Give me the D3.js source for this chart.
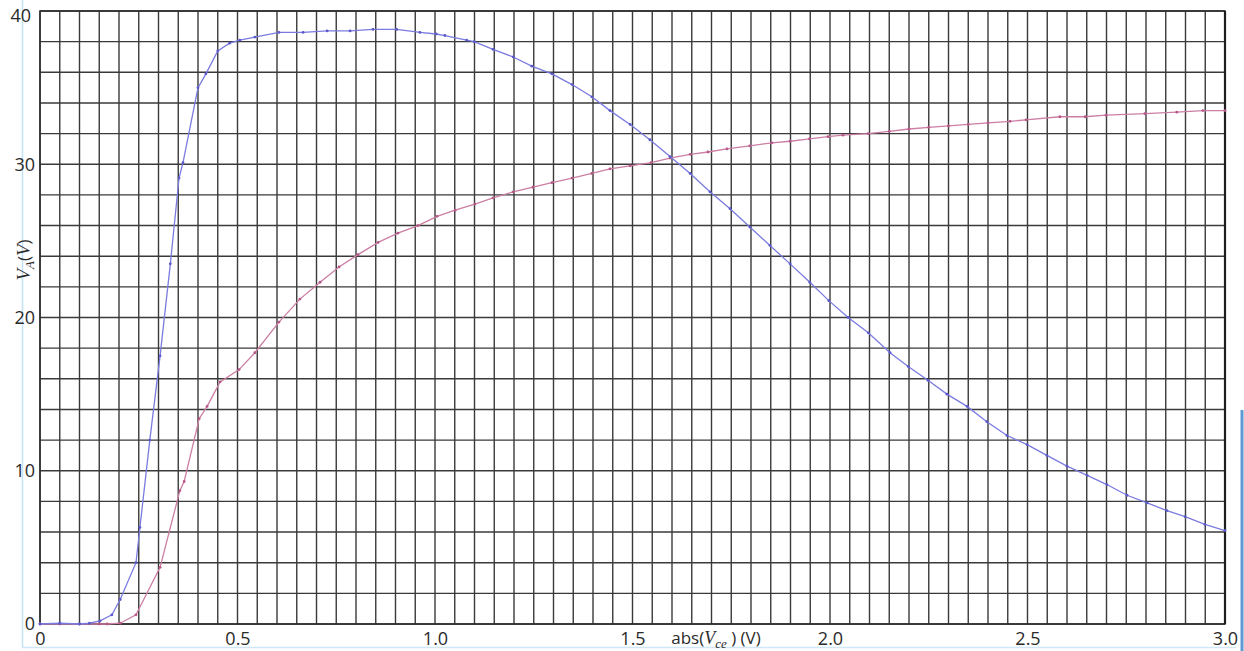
<!DOCTYPE html>
<html>
<head>
<meta charset="utf-8">
<script src="https://cdn.jsdelivr.net/npm/d3@7"></script>
<style>
  html, body { margin: 0; padding: 0; background: #ffffff; }
  svg { display: block; }
  .tick-label { font-family: "Open Sans", "Liberation Sans", sans-serif; font-size: 18px; fill: #2a2a2a; }
  .axis-title { font-family: "Open Sans", "Liberation Sans", sans-serif; font-size: 17px; fill: #2a2a2a; }
  .math { font-family: "Liberation Serif", "DejaVu Serif", serif; font-style: italic; }
</style>
</head>
<body>
<svg id="chart" width="1244" height="651"></svg>
<script>
// Collector-emitter sweep: |Vce| (V) against V_A (V), two measured curves
const blueVce = [0, 0.05, 0.1, 0.125, 0.152, 0.182, 0.203, 0.243, 0.253, 0.278, 0.304, 0.33, 0.352, 0.362, 0.40, 0.42, 0.45, 0.48, 0.506, 0.544, 0.605, 0.666, 0.727, 0.785, 0.843, 0.903, 0.962, 1.003, 1.025, 1.08, 1.099, 1.147, 1.198, 1.245, 1.296, 1.347, 1.397, 1.443, 1.494, 1.544, 1.595, 1.646, 1.696, 1.747, 1.797, 1.848, 1.899, 1.949, 1.997, 2.046, 2.097, 2.152, 2.198, 2.248, 2.296, 2.347, 2.397, 2.448, 2.499, 2.549, 2.6, 2.651, 2.701, 2.752, 2.803, 2.853, 2.899, 2.949, 3.0];
const blueVA  = [0, 0.05, 0, 0.05, 0.2, 0.6, 1.6, 4.0, 6.3, 12.0, 17.5, 23.5, 29.1, 30.1, 35.0, 35.9, 37.4, 37.9, 38.1, 38.3, 38.6, 38.6, 38.7, 38.7, 38.8, 38.8, 38.6, 38.5, 38.4, 38.1, 38.0, 37.5, 37.0, 36.4, 35.9, 35.2, 34.4, 33.5, 32.6, 31.6, 30.5, 29.4, 28.2, 27.1, 25.9, 24.7, 23.5, 22.3, 21.1, 20.0, 19.0, 17.7, 16.8, 15.9, 15.0, 14.2, 13.2, 12.3, 11.7, 11.0, 10.3, 9.7, 9.1, 8.4, 7.9, 7.4, 7.0, 6.5, 6.1];

const redVce = [0, 0.05, 0.1, 0.15, 0.17, 0.203, 0.243, 0.304, 0.354, 0.365, 0.403, 0.423, 0.456, 0.504, 0.544, 0.605, 0.658, 0.709, 0.757, 0.805, 0.856, 0.906, 0.957, 1.005, 1.051, 1.101, 1.147, 1.198, 1.248, 1.296, 1.347, 1.397, 1.443, 1.494, 1.547, 1.595, 1.646, 1.691, 1.739, 1.797, 1.853, 1.899, 1.948, 1.995, 2.033, 2.096, 2.15, 2.2, 2.25, 2.3, 2.35, 2.4, 2.456, 2.496, 2.582, 2.646, 2.699, 2.797, 2.878, 2.944, 3.0];
const redVA  = [0, 0, 0, 0, 0, 0.05, 0.6, 3.7, 8.7, 9.3, 13.4, 14.2, 15.8, 16.6, 17.7, 19.7, 21.2, 22.3, 23.3, 24.1, 24.9, 25.5, 26.0, 26.6, 27.0, 27.4, 27.8, 28.2, 28.5, 28.8, 29.1, 29.4, 29.7, 29.9, 30.1, 30.4, 30.65, 30.8, 31.0, 31.2, 31.4, 31.5, 31.65, 31.8, 31.9, 32.0, 32.15, 32.3, 32.4, 32.5, 32.6, 32.7, 32.8, 32.9, 33.1, 33.1, 33.2, 33.3, 33.4, 33.5, 33.5];

const xTickValues = [0, 0.5, 1.0, 1.5, 2.0, 2.5, 3.0];
const xTickLabels = ["0", "0.5", "1.0", "1.5", "2.0", "2.5", "3.0"];
const yTickValues = [0, 10, 20, 30, 40];
const yTickLabels = ["0", "10", "20", "30", "40"];

const svg = d3.select("#chart");
const plot = { left: 40, right: 1225, top: 11, bottom: 624 };

const x = d3.scaleLinear().domain([0, 3]).range([plot.left, plot.right]);
const y = d3.scaleLinear().domain([0, 40]).range([plot.bottom, plot.top]);

// Page frame lines
svg.append("line").attr("x1", 22.5).attr("x2", 22.5).attr("y1", 0).attr("y2", 648)
  .attr("stroke", "#c4e2f5").attr("stroke-width", 1.5);
svg.append("line").attr("x1", 22).attr("x2", 1236).attr("y1", 647.5).attr("y2", 647.5)
  .attr("stroke", "#cfe7f7").attr("stroke-width", 1.5);
svg.append("line").attr("x1", 1242).attr("x2", 1242).attr("y1", 410).attr("y2", 651)
  .attr("stroke", "#5d9ad3").attr("stroke-width", 3);

// Grid: 0.05 V columns, 2 V rows
const gridX = d3.range(0, 61).map(i => i * 0.05);
const gridY = d3.range(0, 21).map(i => i * 2);

const gridG = svg.append("g").attr("stroke", "#3a3a3a").attr("stroke-width", 1.4);
gridG.selectAll("line.v")
  .data(gridX)
  .join("line")
  .attr("class", "v")
  .attr("x1", d => x(d)).attr("x2", d => x(d))
  .attr("y1", plot.top).attr("y2", plot.bottom);
gridG.selectAll("line.h")
  .data(gridY)
  .join("line")
  .attr("class", "h")
  .attr("x1", plot.left).attr("x2", plot.right)
  .attr("y1", d => y(d)).attr("y2", d => y(d));

// Plot border
svg.append("rect")
  .attr("x", plot.left).attr("y", plot.top)
  .attr("width", plot.right - plot.left).attr("height", plot.bottom - plot.top)
  .attr("fill", "none").attr("stroke", "#2b2b2b").attr("stroke-width", 1.5);
svg.append("line").attr("x1", plot.right).attr("x2", plot.right).attr("y1", plot.top).attr("y2", plot.bottom)
  .attr("stroke", "#1e1e1e").attr("stroke-width", 2.2);

// Tick labels
const xAxis = svg.append("g")
  .attr("transform", `translate(0,${plot.bottom})`)
  .call(d3.axisBottom(x).tickValues(xTickValues).tickSize(0).tickPadding(8)
    .tickFormat((d, i) => xTickLabels[i]));
xAxis.select(".domain").remove();
xAxis.selectAll("text").attr("class", "tick-label").attr("font-family", null).attr("font-size", null);

const yAxis = svg.append("g")
  .attr("transform", `translate(${plot.left},0)`)
  .call(d3.axisLeft(y).tickValues(yTickValues).tickSize(0).tickPadding(5)
    .tickFormat((d, i) => yTickLabels[i]));
yAxis.select(".domain").remove();
yAxis.selectAll("text")
  .attr("class", "tick-label").attr("font-family", null).attr("font-size", null)
  // the top label sits a little below its gridline so it stays inside the page
  .attr("dy", d => d === 40 ? "0.56em" : "0.32em")
  .attr("x", d => d === 40 ? -9 : -5);

// Axis titles
const xt = svg.append("text").attr("class", "axis-title")
  .attr("x", 716).attr("y", 644).attr("text-anchor", "middle");
xt.append("tspan").text("abs(");
xt.append("tspan").attr("class", "math").attr("font-size", 18).text("V");
xt.append("tspan").attr("class", "math").attr("font-size", 13).attr("dy", 4).text("ce");
xt.append("tspan").attr("dy", -4).text(" )  (V)");

const yt = svg.append("text").attr("class", "axis-title")
  .attr("transform", "translate(30,260) rotate(-90)").attr("text-anchor", "middle");
yt.append("tspan").attr("class", "math").attr("font-size", 19).text("V");
yt.append("tspan").attr("class", "math").attr("font-size", 13).attr("dy", 4).text("A");
yt.append("tspan").attr("dy", -4).text("(");
yt.append("tspan").attr("class", "math").attr("font-size", 19).text("V");
yt.append("tspan").text(")");

// Curves
const series = [
  { vce: redVce, va: redVA, line: "#cc7ea3", mark: "#b8588a" },
  { vce: blueVce, va: blueVA, line: "#7b7be0", mark: "#5a5acc" }
];

const line = d3.line().x(d => x(d[0])).y(d => y(d[1]));

series.forEach(s => {
  const pts = s.vce.map((v, i) => [v, s.va[i]]);
  svg.append("path")
    .datum(pts)
    .attr("d", line)
    .attr("fill", "none")
    .attr("stroke", s.line)
    .attr("stroke-width", 1.3);
  svg.append("g").selectAll("circle")
    .data(pts)
    .join("circle")
    .attr("cx", d => x(d[0]))
    .attr("cy", d => y(d[1]))
    .attr("r", 1.4)
    .attr("fill", s.mark);
});
</script>
</body>
</html>
